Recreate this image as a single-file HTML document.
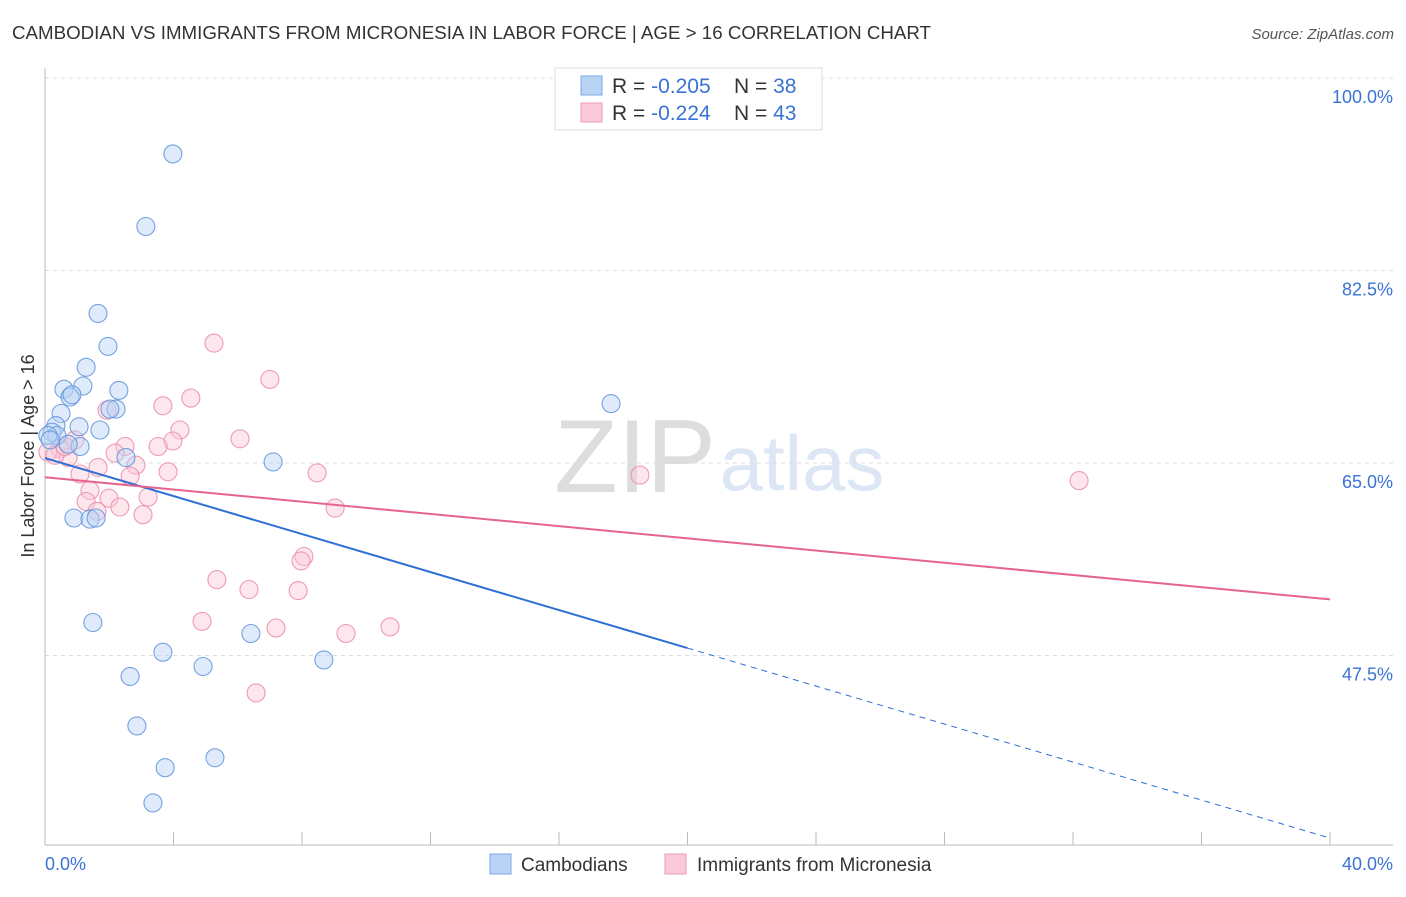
<!DOCTYPE html>
<html><head><meta charset="utf-8"><style>
body{margin:0;background:#fff;font-family:"Liberation Sans",sans-serif;}
svg text{font-family:"Liberation Sans",sans-serif;}
</style></head><body>
<svg id="chart" width="1406" height="892" xmlns="http://www.w3.org/2000/svg">
<text x="12" y="39" font-size="18" fill="#333" textLength="919" lengthAdjust="spacingAndGlyphs">CAMBODIAN VS IMMIGRANTS FROM MICRONESIA IN LABOR FORCE | AGE &gt; 16 CORRELATION CHART</text>
<text x="1394" y="39" font-size="15" fill="#555" font-style="italic" text-anchor="end">Source: ZipAtlas.com</text>
<g>
<text x="635" y="492" font-size="104" fill="#ddd" font-family="Liberation Serif" text-anchor="middle">ZIP</text>
<text x="802" y="490" font-size="78" fill="#dce6f4" text-anchor="middle">atlas</text>
</g>
<g id="grid"></g>
<g id="axes"></g>
<g id="marks"></g>
<text transform="translate(34,456) rotate(-90)" font-size="18" fill="#333" text-anchor="middle">In Labor Force | Age &gt; 16</text>
<g>
<rect x="555" y="68" width="267" height="62" fill="#fff" stroke="#ddd"/>
<rect x="581" y="76" width="21" height="19" fill="#b9d3f5" stroke="#7aa8e6"/>
<rect x="581" y="103" width="21" height="19" fill="#fbc9d8" stroke="#ee9ab4"/>
<text x="612" y="93" font-size="21" fill="#333">R = <tspan fill="#3a73d6">-0.205</tspan></text>
<text x="734" y="93" font-size="21" fill="#333">N = <tspan fill="#3a73d6">38</tspan></text>
<text x="612" y="120" font-size="21" fill="#333">R = <tspan fill="#3a73d6">-0.224</tspan></text>
<text x="734" y="120" font-size="21" fill="#333">N = <tspan fill="#3a73d6">43</tspan></text>
</g>
<g>
<rect x="490" y="854" width="21" height="20" fill="#b9d3f5" stroke="#7aa8e6"/>
<text x="521" y="871" font-size="19" fill="#333">Cambodians</text>
<rect x="665" y="854" width="21" height="20" fill="#fbc9d8" stroke="#ee9ab4"/>
<text x="697" y="871" font-size="19" fill="#333">Immigrants from Micronesia</text>
</g>
</svg>
<script>
const yTicks=[100,82.5,65,47.5];
const yTickLabels=["100.0%","82.5%","65.0%","47.5%"];
const xTickLabels=["0.0%","40.0%"];
const blueX=[3.98,3.14,1.65,1.96,1.28,0.59,1.18,2.30,0.78,0.84,2.21,2.02,0.50,0.34,1.06,1.71,0.22,0.37,0.09,1.09,0.72,2.52,7.10,17.62,0.90,1.40,1.59,1.49,6.41,3.67,8.68,4.92,2.65,2.86,3.74,5.29,3.36,0.16];
const blueY=[93.1,86.5,78.6,75.6,73.7,71.7,72.0,71.6,71.0,71.2,69.9,69.9,69.5,68.4,68.3,68.0,67.8,67.5,67.5,66.5,66.7,65.5,65.1,70.4,60.0,59.9,60.0,50.5,49.5,47.8,47.1,46.5,45.6,41.1,37.3,38.2,34.1,67.1];
const pinkX=[5.26,7.00,4.54,3.67,1.93,6.07,4.20,3.98,3.52,2.49,2.18,0.47,0.09,0.93,0.72,1.65,2.83,2.65,3.83,8.47,18.52,32.19,1.09,1.40,1.99,3.21,1.28,2.33,1.62,3.05,9.03,8.06,7.97,5.35,6.35,7.88,4.89,7.19,9.37,10.74,6.57,0.31,0.62];
const pinkY=[75.9,72.6,70.9,70.2,69.8,67.2,68.0,67.0,66.5,66.5,65.9,66.3,66.0,67.1,65.5,64.6,64.8,63.8,64.2,64.1,63.9,63.4,64.0,62.5,61.8,61.9,61.5,61.0,60.6,60.3,60.9,56.5,56.1,54.4,53.5,53.4,50.6,50.0,49.5,50.1,44.1,65.7,66.5];
const blueTrend=[65.45,30.9];
const pinkTrend=[63.7,52.6];
const NS="http://www.w3.org/2000/svg";
const xs=v=>45+v/40*1285;
const ys=v=>78+(100-v)*11;
function mk(t,a,p){const e=document.createElementNS(NS,t);for(const k in a)e.setAttribute(k,a[k]);p.appendChild(e);return e;}
const grid=document.getElementById('grid'),axes=document.getElementById('axes'),marks=document.getElementById('marks');
yTicks.forEach((t,i)=>{
 const l=mk('line',{x1:45,x2:1393,y1:ys(t),y2:ys(t),stroke:'#ddd','stroke-dasharray':'4,4'},grid);
 
 
 const tx=mk('text',{x:1393,y:ys(t)+25,'font-size':18,fill:'#3a73d6','text-anchor':'end'},axes);
 tx.textContent=yTickLabels[i];
 
 
});
let a=mk('line',{x1:45,x2:45,y1:68,y2:845,stroke:'#bbb'},axes);


a=mk('line',{x1:45,x2:1393,y1:845,y2:845,stroke:'#bbb'},axes);


for(let i=1;i<=10;i++){
 const t=mk('line',{x1:xs(i*4),x2:xs(i*4),y1:832,y2:845,stroke:'#bbb'},axes);
 
 
}
[[0,'start',45],[40,'end',1393]].forEach((d,i)=>{
 const tx=mk('text',{x:d[2],y:870,'font-size':18,fill:'#3a73d6','text-anchor':d[1]},axes);
 tx.textContent=xTickLabels[i];
 
 
});
function pts(X,Y,fill,stroke,name){X.forEach((x,i)=>{
 const c=mk('circle',{cx:xs(x),cy:ys(Y[i]),r:9,fill:fill,'fill-opacity':0.45,stroke:stroke,'stroke-width':1.1,'stroke-opacity':0.85},marks);
 
 
});}
pts(pinkX,pinkY,'#fbc9d8','#ea8aa9','micronesia-point');
pts(blueX,blueY,'#b9d3f5','#5e93dc','cambodian-point');
const bm=blueTrend[0]+(blueTrend[1]-blueTrend[0])*0.5;
let ln=mk('line',{x1:xs(0),y1:ys(blueTrend[0]),x2:xs(20),y2:ys(bm),stroke:'#2f6fd6','stroke-width':2},marks);


ln=mk('line',{x1:xs(20),y1:ys(bm),x2:xs(40),y2:ys(blueTrend[1]),stroke:'#2f6fd6','stroke-width':1,'stroke-dasharray':'6,5'},marks);


ln=mk('line',{x1:xs(0),y1:ys(pinkTrend[0]),x2:xs(40),y2:ys(pinkTrend[1]),stroke:'#e5648f','stroke-width':2},marks);


</script>
</body></html>
